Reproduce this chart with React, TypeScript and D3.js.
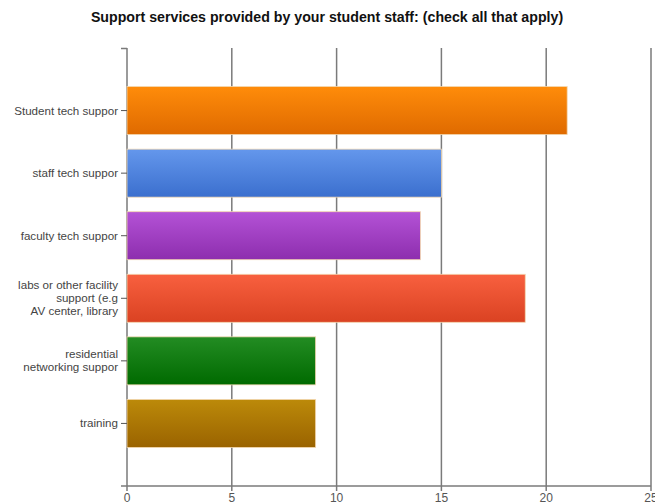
import React from "react";
import * as d3 from "d3";

const categories: string[][] = [
  ["Student tech suppor"],
  ["staff tech suppor"],
  ["faculty tech suppor"],
  ["labs or other facility", "support (e.g", "AV center, library"],
  ["residential", "networking suppor"],
  ["training"],
];
const values: number[] = [21, 15, 14, 19, 9, 9];
const xTicks: number[] = [0, 5, 10, 15, 20, 25];
const colorsTop: string[] = ["#ff8c0a", "#6497ec", "#b452d6", "#f8603f", "#238c23", "#bc8a0a"];
const colorsBottom: string[] = ["#df6a00", "#3b6fce", "#8d2eae", "#da4222", "#006a00", "#9a6300"];
const title = "Support services provided by your student staff: (check all that apply)";

export default function App() {
  const W = 655, H = 504;
  const left = 127, right = 651, top = 48, bottom = 486;
  const x = d3.scaleLinear().domain([0, 25]).range([left, right]);
  const y = d3.scalePoint<number>().domain(d3.range(categories.length)).range([top, bottom]).padding(1);
  const barH = 48;
  const gridColor = "#7a7a7a";
  const font = "Liberation Sans, Arial, sans-serif";
  return (
    <svg width={W} height={H} style={{ position: "absolute", left: 0, top: 0, background: "#fff" }}>
      <defs>
        {values.map((_, i) => (
          <linearGradient key={i} id={`g${i}`} x1="0" y1="0" x2="0" y2="1">
            <stop offset="0" stopColor={colorsTop[i]} />
            <stop offset="1" stopColor={colorsBottom[i]} />
          </linearGradient>
        ))}
      </defs>
      <text x={327} y={22} textAnchor="middle" fontFamily={font} fontWeight="bold" fontSize={14.2} fill="#111">
        {title}
      </text>
      {xTicks.map((t) => (
        <g key={t}>
          <line x1={x(t)} x2={x(t)} y1={top} y2={bottom + 5} stroke={gridColor} strokeWidth={1.5} />
          <text x={x(t)} y={502} textAnchor="middle" fontFamily={font} fontSize={12} fill="#555">
            {t}
          </text>
        </g>
      ))}
      <line x1={left - 6} x2={left} y1={top + 0.5} y2={top + 0.5} stroke={gridColor} strokeWidth={1.5} />
      <line x1={left - 6} x2={right} y1={bottom} y2={bottom} stroke={gridColor} strokeWidth={1.5} />
      {values.map((v, i) => {
        const cy = y(i) as number;
        return (
          <g key={i}>
            <rect
              x={x(0)}
              y={cy - barH / 2}
              width={x(v) - x(0)}
              height={barH}
              fill={`url(#g${i})`}
              stroke="#f3d7b0"
              strokeWidth={0.8}
            />
            <line x1={left - 6} x2={left} y1={cy} y2={cy} stroke="#555" strokeWidth={1} />
            {categories[i].map((line, j) => (
              <text
                key={j}
                x={118}
                y={cy + 4 + (j - (categories[i].length - 1) / 2) * 13}
                textAnchor="end"
                fontFamily={font}
                fontSize={11.6}
                fill="#444"
              >
                {line}
              </text>
            ))}
          </g>
        );
      })}
    </svg>
  );
}
